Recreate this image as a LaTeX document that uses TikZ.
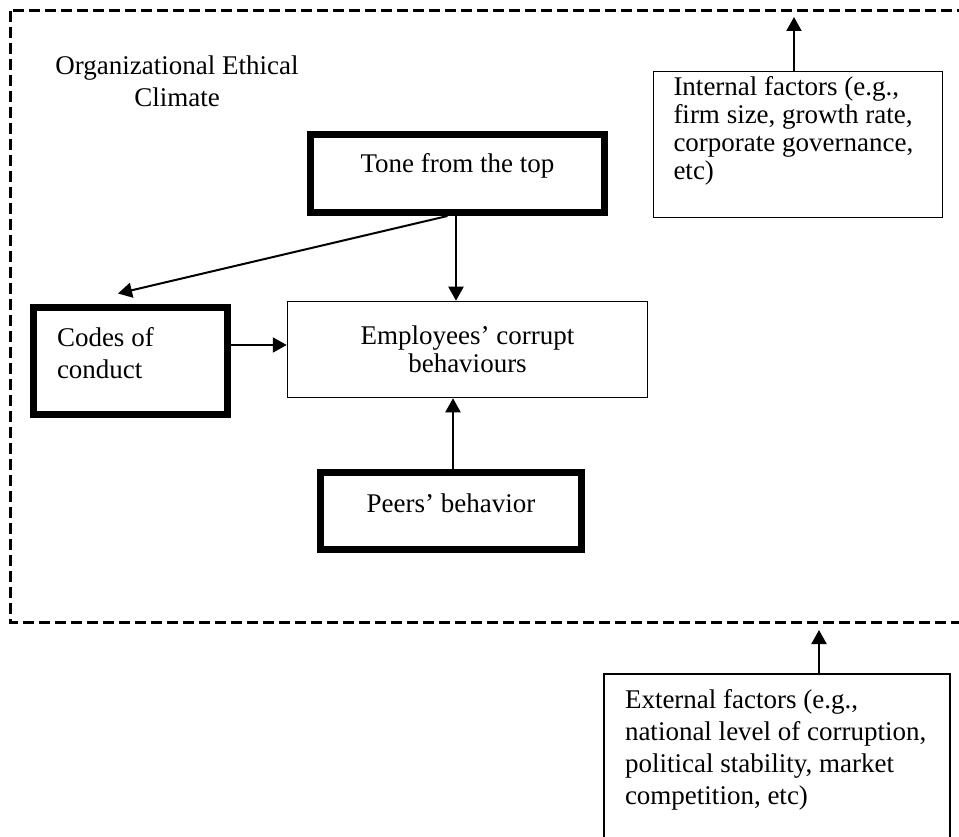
\documentclass[tikz,border=0pt]{standalone}
\usepackage{fontspec}
\setmainfont{Liberation Serif}
\usepackage{tikz}
\usetikzlibrary{arrows.meta,calc}

\begin{document}
\begin{tikzpicture}[x=1pt,y=-1pt,font=\fontsize{27}{32}\selectfont,
  thickbox/.style={draw,line width=7pt,inner sep=0pt},
  thinbox/.style={draw,line width=1.5pt,inner sep=0pt},
  arr/.style={line width=2pt,-{Triangle[length=14pt,width=15pt]}}]
  \clip (0,0) rectangle (959,837);
  % dashed frame of the climate (open to the right)
  \draw[line width=3pt,dash pattern=on 11pt off 5pt] (10,11) rectangle (990,622);
  \node[align=flush center,text width=260pt] (oec) at (177,81) {Organizational Ethical\\Climate};
  % the four inner boxes
  \node[thickbox,minimum width=294pt,minimum height=78pt,text height=18pt,text depth=19pt]
        (tone) at (457.5,173.5) {Tone from the top};
  \node[thickbox,minimum width=194pt,minimum height=107pt,align=flush left,text width=147pt,
        text height=19pt,text depth=48pt] (codes) at (130.5,361) {Codes of\\conduct};
  \node[thinbox,minimum width=360pt,minimum height=96pt,align=flush center,text width=330pt,
        font=\fontsize{27}{28}\selectfont] (emp) at (467.5,349.5) {Employees' corrupt\\behaviours};
  \node[thickbox,minimum width=261pt,minimum height=77pt,text height=18pt,text depth=16pt]
        (peers) at (451,511) {Peers' behavior};
  % factors outside
  \node[thinbox,minimum width=289pt,minimum height=146pt,align=flush left,text width=249pt,
        text height=19pt,text depth=117pt,font=\fontsize{27}{28}\selectfont]
        (internal) at (798,144.5) {Internal factors (e.g.,\\firm size, growth rate,\\corporate governance,\\etc)};
  \node[thinbox,minimum width=346pt,minimum height=200pt,align=flush left,text width=304pt,
        text height=19pt,text depth=151pt]
        (external) at (777,774) {External factors (e.g.,\\\mbox{national level of corruption,}\\political stability, market\\competition, etc)};
  % arrows
  \draw[arr] ([xshift=-10pt]tone.south) -- ([xshift=-12.5pt,yshift=10.5pt]codes.north);
  \draw[arr] ([xshift=-1.5pt]tone.south) -- ([xshift=-1.5pt]tone.south |- emp.north);
  \draw[arr] ([yshift=16pt]codes.east) -- ([yshift=16pt]codes.east -| emp.west);
  \draw[arr] ([xshift=2pt]peers.north) -- ([xshift=2pt]peers.north |- emp.south);
  \coordinate (intTip) at (794,17);
  \draw[arr] (intTip |- internal.north) -- (intTip);
  \coordinate (extTip) at (819,630);
  \draw[arr] (extTip |- external.north) -- (extTip);
\end{tikzpicture}
\end{document}
